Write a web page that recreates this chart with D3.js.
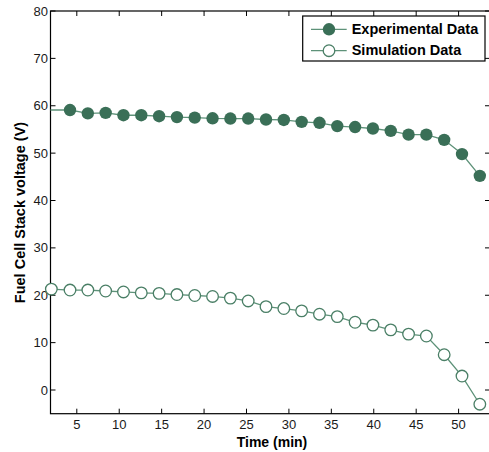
<!DOCTYPE html>
<html>
<head>
<meta charset="utf-8">
<script src="https://cdn.jsdelivr.net/npm/d3@7"></script>
<style>
  body { margin: 0; background: #fff; }
  text { font-family: "Liberation Sans", Arial, sans-serif; }
</style>
</head>
<body>
<div id="chart"></div>
<script>
// data
var expTime = [0, 4.2, 6.3, 8.4, 10.5, 12.6, 14.7, 16.8, 18.9, 21.0, 23.1, 25.2, 27.3,
               29.4, 31.5, 33.6, 35.7, 37.8, 39.9, 42.0, 44.1, 46.2, 48.3, 50.4, 52.5];
var expVolt = [59.1, 59.1, 58.4, 58.5, 58.0, 58.0, 57.8, 57.6, 57.5, 57.35, 57.3, 57.3, 57.1,
               57.0, 56.6, 56.4, 55.7, 55.5, 55.2, 54.7, 53.9, 53.9, 52.8, 49.8, 45.2];
var simTime = [2.0, 4.2, 6.3, 8.4, 10.5, 12.6, 14.7, 16.8, 18.9, 21.0, 23.1, 25.2, 27.3,
               29.4, 31.5, 33.6, 35.7, 37.8, 39.9, 42.0, 44.1, 46.2, 48.3, 50.4, 52.5];
var simVolt = [21.3, 21.1, 21.1, 20.9, 20.7, 20.5, 20.4, 20.15, 19.95, 19.75, 19.4, 18.8, 17.6,
               17.2, 16.7, 16.0, 15.5, 14.3, 13.7, 12.7, 11.8, 11.4, 7.45, 2.95, -3.0];
var xTicks = [5, 10, 15, 20, 25, 30, 35, 40, 45, 50];
var yTicks = [0, 10, 20, 30, 40, 50, 60, 70, 80];
var seriesNames = ["Experimental Data", "Simulation Data"];

var width = 489, height = 452;
var plotL = 50.5, plotR = 490, plotT = 11, plotB = 413.7;

var markColor = "#3a6f57";
var lineColor = "#5e9279";
var tickLen = 5;

var svg = d3.select("#chart")
    .append("svg")
    .attr("width", width)
    .attr("height", height);

var x = d3.scaleLinear().domain([1.9, 53.7]).range([plotL, plotR]);
var y = d3.scaleLinear().domain([-5, 80]).range([plotB, plotT]);

// clip for the lines
svg.append("clipPath").attr("id", "plotclip")
  .append("rect")
    .attr("x", plotL).attr("y", plotT)
    .attr("width", plotR - plotL).attr("height", plotB - plotT);

// ticks, inward on all four sides
var g = svg.append("g");
xTicks.forEach(function (t) {
    g.append("line").attr("x1", x(t)).attr("x2", x(t))
        .attr("y1", plotB).attr("y2", plotB - tickLen);
    g.append("line").attr("x1", x(t)).attr("x2", x(t))
        .attr("y1", plotT).attr("y2", plotT + tickLen);
});
yTicks.forEach(function (t) {
    g.append("line").attr("x1", plotL).attr("x2", plotL + tickLen)
        .attr("y1", y(t)).attr("y2", y(t));
    g.append("line").attr("x1", plotR).attr("x2", plotR - tickLen)
        .attr("y1", y(t)).attr("y2", y(t));
});
g.selectAll("line").attr("stroke", "#000").attr("stroke-width", 1);

// frame
svg.append("rect")
    .attr("x", plotL).attr("y", plotT)
    .attr("width", plotR - plotL).attr("height", plotB - plotT)
    .attr("fill", "none").attr("stroke", "#000").attr("stroke-width", 1.2);

// tick labels
svg.selectAll(".xlab").data(xTicks).enter().append("text")
    .attr("class", "xlab")
    .attr("x", function (d) { return x(d); })
    .attr("y", 428.5)
    .attr("text-anchor", "middle")
    .attr("font-size", 13)
    .attr("fill", "#1a1a1a")
    .text(function (d) { return d; });

svg.selectAll(".ylab").data(yTicks).enter().append("text")
    .attr("class", "ylab")
    .attr("x", 48)
    .attr("y", function (d) { return y(d) + 4.6; })
    .attr("text-anchor", "end")
    .attr("font-size", 13)
    .attr("fill", "#1a1a1a")
    .text(function (d) { return d; });

// axis titles
svg.append("text")
    .attr("x", 272).attr("y", 447)
    .attr("text-anchor", "middle")
    .attr("font-size", 14)
    .attr("font-weight", "bold")
    .text("Time (min)");

svg.append("text")
    .attr("transform", "translate(25,212.5)rotate(-90)")
    .attr("text-anchor", "middle")
    .attr("font-size", 14.5)
    .attr("font-weight", "bold")
    .text("Fuel Cell Stack voltage (V)");

// series
var line = d3.line()
    .x(function (d) { return x(d[0]); })
    .y(function (d) { return y(d[1]); });

var expData = d3.zip(expTime, expVolt);
var simData = d3.zip(simTime, simVolt);
var inside = function (d) { return d[0] >= x.domain()[0] && d[0] <= x.domain()[1]; };

svg.append("path").datum(expData)
    .attr("clip-path", "url(#plotclip)")
    .attr("d", line)
    .attr("fill", "none").attr("stroke", lineColor).attr("stroke-width", 1.3);

svg.append("path").datum(simData)
    .attr("clip-path", "url(#plotclip)")
    .attr("d", line)
    .attr("fill", "none").attr("stroke", lineColor).attr("stroke-width", 1.3);

svg.selectAll(".exp").data(expData.filter(inside)).enter().append("circle")
    .attr("class", "exp")
    .attr("cx", function (d) { return x(d[0]); })
    .attr("cy", function (d) { return y(d[1]); })
    .attr("r", 6.2)
    .attr("fill", markColor);

svg.selectAll(".sim").data(simData.filter(inside)).enter().append("circle")
    .attr("class", "sim")
    .attr("cx", function (d) { return x(d[0]); })
    .attr("cy", function (d) { return y(d[1]); })
    .attr("r", 5.8)
    .attr("fill", "#fff")
    .attr("stroke", "#4a7f66")
    .attr("stroke-width", 1.3);

// legend
var legend = svg.append("g");
legend.append("rect")
    .attr("x", 302.7).attr("y", 16)
    .attr("width", 182.3).attr("height", 45)
    .attr("fill", "#fff").attr("stroke", "#000").attr("stroke-width", 1.2);

var rowY = [29.3, 50.7];
seriesNames.forEach(function (name, i) {
    legend.append("line")
        .attr("x1", 311).attr("x2", 346.7)
        .attr("y1", rowY[i]).attr("y2", rowY[i])
        .attr("stroke", lineColor).attr("stroke-width", 1.3);
    legend.append("circle")
        .attr("cx", 329).attr("cy", rowY[i])
        .attr("r", i === 0 ? 6.2 : 5.8)
        .attr("fill", i === 0 ? markColor : "#fff")
        .attr("stroke", i === 0 ? "none" : "#4a7f66")
        .attr("stroke-width", 1.3);
    legend.append("text")
        .attr("x", 351.7).attr("y", rowY[i] + 4.6)
        .attr("font-size", 14.5)
        .attr("font-weight", "bold")
        .text(name);
});
</script>
</body>
</html>
